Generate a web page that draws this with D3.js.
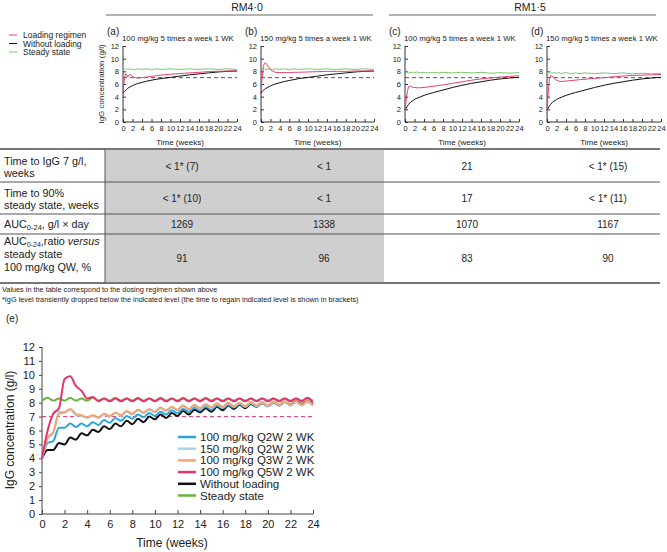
<!DOCTYPE html>
<html lang="en">
<head>
<meta charset="utf-8">
<script src="https://d3js.org/d3.v7.min.js"></script>
<style>
  body { margin: 0; background: #fff; }
  text { font-family: "Liberation Sans", Arial, sans-serif; fill: #222; }
</style>
</head>
<body>
<script>
var width = 667;
var height = 552;

// ---------- top panels data (a)-(d) ----------
var weeksTop = [0, 0.25, 0.5, 0.75, 1, 1.25, 1.5, 2, 2.5, 3, 4, 5, 6, 7, 8, 10, 12, 14, 16, 18, 20, 22, 24];

var redA   = [4.6, 6.5, 7.6, 7.5, 7.1, 7.4, 7.5, 7.2, 7.0, 6.95, 7.0, 7.1, 7.2, 7.3, 7.4, 7.55, 7.65, 7.75, 7.85, 7.95, 8.0, 8.05, 8.1];
var blackA = [4.5, 4.8, 5.0, 5.15, 5.3, 5.45, 5.55, 5.75, 5.9, 6.05, 6.25, 6.45, 6.6, 6.75, 6.85, 7.05, 7.25, 7.45, 7.6, 7.75, 7.9, 8.0, 8.05];
var greenA = [8.25, 8.4, 8.3, 8.4, 8.25, 8.4, 8.3, 8.35, 8.25, 8.4, 8.3, 8.4, 8.25, 8.4, 8.3, 8.4, 8.3, 8.4, 8.3, 8.4, 8.3, 8.4, 8.3];

var redB   = [4.6, 7.0, 8.8, 9.3, 9.3, 9.1, 8.8, 8.3, 8.0, 7.85, 7.8, 7.8, 7.8, 7.85, 7.85, 7.9, 7.95, 8.0, 8.0, 8.0, 8.05, 8.05, 8.1];
var blackB = [4.5, 4.8, 5.0, 5.15, 5.3, 5.4, 5.5, 5.7, 5.85, 6.0, 6.2, 6.4, 6.55, 6.7, 6.85, 7.05, 7.25, 7.45, 7.6, 7.75, 7.9, 8.0, 8.05];
var greenB = [8.25, 8.4, 8.3, 8.4, 8.25, 8.4, 8.3, 8.35, 8.25, 8.4, 8.3, 8.4, 8.25, 8.4, 8.3, 8.4, 8.3, 8.4, 8.3, 8.4, 8.3, 8.4, 8.3];

var redC   = [1.9, 3.5, 4.8, 5.6, 5.7, 5.6, 5.5, 5.45, 5.4, 5.4, 5.45, 5.55, 5.65, 5.75, 5.85, 6.1, 6.35, 6.6, 6.8, 6.95, 7.1, 7.2, 7.3];
var blackC = [1.9, 2.2, 2.5, 2.8, 3.0, 3.2, 3.3, 3.55, 3.75, 3.9, 4.2, 4.45, 4.65, 4.85, 5.05, 5.45, 5.8, 6.1, 6.35, 6.6, 6.8, 6.95, 7.05];
var greenC = [7.95, 7.8, 7.9, 7.75, 7.9, 7.75, 7.9, 7.8, 7.9, 7.75, 7.85, 7.75, 7.85, 7.75, 7.85, 7.75, 7.85, 7.75, 7.85, 7.7, 7.8, 7.7, 7.8];

var redD   = [1.9, 4.5, 6.8, 7.3, 7.3, 7.1, 6.9, 6.6, 6.45, 6.4, 6.45, 6.55, 6.6, 6.7, 6.75, 6.9, 7.0, 7.15, 7.25, 7.35, 7.4, 7.45, 7.5];
var blackD = [1.9, 2.2, 2.5, 2.8, 3.0, 3.2, 3.3, 3.55, 3.75, 3.9, 4.2, 4.45, 4.65, 4.85, 5.05, 5.45, 5.8, 6.1, 6.35, 6.6, 6.8, 6.95, 7.05];
var greenD = [7.9, 7.75, 7.85, 7.7, 7.85, 7.7, 7.8, 7.7, 7.8, 7.65, 7.8, 7.65, 7.75, 7.65, 7.75, 7.65, 7.75, 7.65, 7.75, 7.6, 7.7, 7.6, 7.7];

var panelLetters = ["(a)", "(b)", "(c)", "(d)"];
var panelTitles = ["100 mg/kg 5 times a week 1 WK", "150 mg/kg 5 times a week 1 WK",
                   "100 mg/kg 5 times a week 1 WK", "150 mg/kg 5 times a week 1 WK"];
var topTargetLevel = 7;

// ---------- table data ----------
var rowTime7  = ["< 1* (7)", "< 1", "21", "< 1* (15)"];
var rowTime90 = ["< 1* (10)", "< 1", "17", "< 1* (11)"];
var rowAuc    = ["1269", "1338", "1070", "1167"];
var rowRatio  = ["91", "96", "83", "90"];

// ---------- panel (e) data ----------
var weeksE = [0, 0.5, 1, 1.5, 2, 2.5, 3, 3.5, 4, 4.5, 5, 5.5, 6, 6.5, 7, 7.5, 8, 8.5, 9, 9.5, 10, 10.5, 11, 11.5, 12,
              12.5, 13, 13.5, 14, 14.5, 15, 15.5, 16, 16.5, 17, 17.5, 18, 18.5, 19, 19.5, 20, 20.5, 21, 21.5, 22, 22.5, 23, 23.5, 24];

var eNoLoad = [4.0, 4.6, 4.6, 5.1, 5.0, 5.5, 5.35, 5.8, 5.65, 6.05, 5.9, 6.3, 6.1, 6.5, 6.3, 6.7, 6.45, 6.85, 6.6, 7.0, 6.8, 7.15, 6.9, 7.25, 7.05,
               7.4, 7.15, 7.5, 7.3, 7.6, 7.35, 7.7, 7.45, 7.8, 7.55, 7.85, 7.6, 7.9, 7.7, 7.95, 7.75, 8.0, 7.8, 8.05, 7.85, 8.1, 7.9, 8.1, 7.9];
var eQ2W100 = [4.0, 5.1, 5.25, 6.2, 6.2, 6.5, 6.25, 6.5, 6.3, 6.6, 6.4, 6.75, 6.55, 6.9, 6.7, 7.05, 6.85, 7.15, 6.95, 7.25, 7.05, 7.35, 7.15, 7.45, 7.25,
               7.55, 7.35, 7.65, 7.45, 7.7, 7.5, 7.8, 7.6, 7.85, 7.65, 7.9, 7.7, 7.95, 7.75, 8.0, 7.75, 8.0, 7.8, 8.05, 7.8, 8.05, 7.85, 8.05, 7.8];
var eQ2W150 = [4.0, 5.4, 5.8, 7.35, 7.3, 7.5, 7.1, 7.05, 6.9, 7.05, 6.9, 7.15, 7.0, 7.25, 7.05, 7.35, 7.15, 7.45, 7.25, 7.5, 7.3, 7.6, 7.4, 7.65, 7.45,
               7.75, 7.5, 7.8, 7.55, 7.85, 7.6, 7.9, 7.65, 7.95, 7.7, 7.95, 7.7, 8.0, 7.75, 8.0, 7.75, 8.05, 7.8, 8.05, 7.8, 8.05, 7.8, 8.05, 7.8];
var eQ3W100 = [4.0, 5.5, 5.9, 7.2, 7.3, 7.55, 7.2, 7.1, 6.95, 7.1, 6.95, 7.2, 7.05, 7.3, 7.1, 7.4, 7.2, 7.5, 7.3, 7.55, 7.35, 7.65, 7.45, 7.7, 7.5,
               7.8, 7.55, 7.85, 7.6, 7.9, 7.65, 7.95, 7.7, 8.0, 7.75, 8.0, 7.75, 8.05, 7.8, 8.05, 7.8, 8.1, 7.85, 8.1, 7.85, 8.1, 7.85, 8.1, 7.85];
var eQ5W100 = [4.0, 6.0, 7.2, 7.6, 9.7, 9.9, 9.2, 8.85, 8.3, 8.4, 8.1, 8.3, 8.1, 8.3, 8.1, 8.3, 8.1, 8.3, 8.1, 8.3, 8.1, 8.3, 8.1, 8.3, 8.1,
               8.3, 8.1, 8.3, 8.1, 8.3, 8.1, 8.3, 8.1, 8.3, 8.1, 8.3, 8.1, 8.3, 8.1, 8.3, 8.1, 8.3, 8.1, 8.3, 8.1, 8.3, 8.1, 8.35, 8.0];
var eSteady = [8.15, 8.35, 8.15, 8.3, 8.15, 8.35, 8.15, 8.3, 8.15, 8.35, 8.15, 8.3, 8.15, 8.35, 8.15, 8.3, 8.15, 8.35, 8.15, 8.3, 8.15, 8.35, 8.15, 8.3, 8.15,
               8.35, 8.15, 8.3, 8.15, 8.35, 8.15, 8.3, 8.15, 8.3, 8.15, 8.3, 8.15, 8.3, 8.15, 8.3, 8.15, 8.3, 8.15, 8.3, 8.15, 8.3, 8.15, 8.3, 8.15];

var eLegend = ["100 mg/kg Q2W 2 WK", "150 mg/kg Q2W 2 WK", "100 mg/kg Q3W 2 WK", "100 mg/kg Q5W 2 WK", "Without loading", "Steady state"];
var eColors = ["#2ba6dc", "#aad3ea", "#f4a270", "#e5336d", "#111111", "#6ab23e"];
var eTarget = 7;

var topRed = "#e8406f", topGreen = "#7cc96a";

var svg = d3.select("body").append("svg")
            .attr("width", width)
            .attr("height", height);

svg.append("rect").attr("width", width).attr("height", height).attr("fill", "#fff");

// ---------- group headers ----------
svg.append("text").attr("x", 247).attr("y", 11).attr("text-anchor", "middle")
   .attr("font-size", 10.5).text("RM4·0");
svg.append("line").attr("x1", 106).attr("x2", 373).attr("y1", 15).attr("y2", 15)
   .attr("stroke", "#666").attr("stroke-width", 1.2);
svg.append("text").attr("x", 530).attr("y", 11).attr("text-anchor", "middle")
   .attr("font-size", 10.5).text("RM1·5");
svg.append("line").attr("x1", 389).attr("x2", 656).attr("y1", 15).attr("y2", 15)
   .attr("stroke", "#666").attr("stroke-width", 1.2);

// ---------- top legend ----------
var topLegend = [["Loading regimen", topRed], ["Without loading", "#111"], ["Steady state", topGreen]];
topLegend.forEach(function(d, i) {
  var y = 35 + i * 8.5;
  svg.append("line").attr("x1", 9).attr("x2", 17).attr("y1", y).attr("y2", y)
     .attr("stroke", d[1]).attr("stroke-width", 1);
  svg.append("text").attr("x", 23).attr("y", y + 3).attr("font-size", 8.5).text(d[0]);
});

// ---------- top panels ----------
var panelX = [[123, 237], [261, 374], [405, 519], [547, 661]];
var topSeries = [[redA, blackA, greenA], [redB, blackB, greenB], [redC, blackC, greenC], [redD, blackD, greenD]];
var yTop = d3.scaleLinear().domain([0, 12]).range([122, 46]);

panelX.forEach(function(px, i) {
  var x = d3.scaleLinear().domain([0, 24]).range(px);
  var g = svg.append("g");

  g.append("text").attr("x", px[0] - 16).attr("y", 35).attr("font-size", 10).text(panelLetters[i]);
  g.append("text").attr("x", px[0] - 1).attr("y", 41).attr("font-size", 7.8).text(panelTitles[i]);

  var xa = g.append("g").attr("transform", "translate(0,122)")
            .call(d3.axisBottom(x).tickValues(d3.range(0, 25, 2)).tickSize(-3).tickPadding(4));
  var ya = g.append("g").attr("transform", "translate(" + px[0] + ",0)")
            .call(d3.axisLeft(yTop).tickValues(d3.range(0, 13, 2)).tickSize(-3).tickPadding(4));
  [xa, ya].forEach(function(a) {
    a.selectAll("text").attr("font-size", 7.5).attr("fill", "#222")
     .attr("font-family", "Liberation Sans, Arial, sans-serif");
    a.selectAll("path, line").attr("stroke", "#333");
  });
  xa.select(".domain").attr("d", "M" + px[0] + ",0H" + px[1]);
  ya.select(".domain").attr("d", "M0,122V46");

  g.append("text").attr("x", (px[0] + px[1]) / 2).attr("y", 145).attr("text-anchor", "middle")
   .attr("font-size", 8).text("Time (weeks)");

  g.append("line").attr("x1", x(0)).attr("x2", x(24))
   .attr("y1", yTop(topTargetLevel)).attr("y2", yTop(topTargetLevel))
   .attr("stroke", "#555").attr("stroke-width", 1).attr("stroke-dasharray", "4,3");

  var line = d3.line().x(function(d, j) { return x(weeksTop[j]); }).y(function(d) { return yTop(d); });
  var s = topSeries[i];
  g.append("path").attr("d", line(s[2])).attr("fill", "none").attr("stroke", topGreen).attr("stroke-width", 1);
  g.append("path").attr("d", line(s[1])).attr("fill", "none").attr("stroke", "#111").attr("stroke-width", 1);
  g.append("path").attr("d", line(s[0])).attr("fill", "none").attr("stroke", topRed).attr("stroke-width", 1);
});

svg.append("text").attr("transform", "translate(104,84) rotate(-90)").attr("text-anchor", "middle")
   .attr("font-size", 8).text("IgG concentration (g/l)");

// ---------- table ----------
var colX = [182, 324, 467, 608];
var rowLines = [149, 182, 214, 234, 283];
var rowMid = [166, 198, 224, 258];

svg.append("rect").attr("x", 105).attr("y", 149).attr("width", 279).attr("height", 134).attr("fill", "#cfcfcf");
rowLines.forEach(function(y, i) {
  var thick = (i == 0 || i == rowLines.length - 1);
  svg.append("line").attr("x1", 0).attr("x2", 660).attr("y1", y).attr("y2", y)
     .attr("stroke", thick ? "#777" : "#555").attr("stroke-width", thick ? 2 : 1);
});
svg.append("line").attr("x1", 105).attr("x2", 105).attr("y1", 149).attr("y2", 283)
   .attr("stroke", "#555").attr("stroke-width", 1);

function labelLine(y, txt) {
  return svg.append("text").attr("x", 4).attr("y", y).attr("font-size", 10.8).text(txt);
}
labelLine(165, "Time to IgG 7 g/l,");
labelLine(177, "weeks");
labelLine(197, "Time to 90%");
labelLine(209, "steady state, weeks");
var auc1 = svg.append("text").attr("x", 4).attr("y", 228).attr("font-size", 10.8);
auc1.append("tspan").text("AUC");
auc1.append("tspan").attr("font-size", 7.5).attr("dy", 2).text("0-24");
auc1.append("tspan").attr("dy", -2).text(", g/l × day");
var auc2 = svg.append("text").attr("x", 4).attr("y", 245).attr("font-size", 10.8);
auc2.append("tspan").text("AUC");
auc2.append("tspan").attr("font-size", 7).attr("dy", 1.5).text("0-24");
auc2.append("tspan").attr("dy", -1.5).text(",ratio ");
auc2.append("tspan").attr("font-style", "italic").text("versus");
labelLine(258, "steady state");
labelLine(271, "100 mg/kg QW, %");

[rowTime7, rowTime90, rowAuc, rowRatio].forEach(function(row, r) {
  row.forEach(function(v, c) {
    svg.append("text").attr("x", colX[c]).attr("y", rowMid[r] + 3.5).attr("text-anchor", "middle")
       .attr("font-size", 10).attr("fill", "#333").text(v);
  });
});

svg.append("text").attr("x", 2).attr("y", 292).attr("font-size", 7.3)
   .text("Values in the table correspond to the dosing regimen shown above");
svg.append("text").attr("x", 2).attr("y", 302).attr("font-size", 7.3)
   .text("*IgG level transiently dropped below the indicated level (the time to regain indicated level is shown in brackets)");

// ---------- panel (e) ----------
svg.append("text").attr("x", 6).attr("y", 322).attr("font-size", 10).text("(e)");

var xE = d3.scaleLinear().domain([0, 24]).range([42, 313]);
var yE = d3.scaleLinear().domain([0, 12]).range([514, 347]);

var xaE = svg.append("g").attr("transform", "translate(0,514)")
             .call(d3.axisBottom(xE).tickValues(d3.range(0, 25, 2)).tickSize(-4).tickPadding(6));
var yaE = svg.append("g").attr("transform", "translate(42,0)")
             .call(d3.axisLeft(yE).tickValues(d3.range(0, 13, 1)).tickSize(3).tickPadding(4));
[xaE, yaE].forEach(function(a) {
  a.selectAll("text").attr("font-size", 11).attr("fill", "#222")
   .attr("font-family", "Liberation Sans, Arial, sans-serif");
  a.selectAll("path, line").attr("stroke", "#444");
});
xaE.select(".domain").attr("d", "M42,0H313");
yaE.select(".domain").attr("d", "M0,514V347");

svg.append("text").attr("x", 172).attr("y", 547).attr("text-anchor", "middle")
   .attr("font-size", 12).text("Time (weeks)");
svg.append("text").attr("transform", "translate(14,430) rotate(-90)").attr("text-anchor", "middle")
   .attr("font-size", 12).text("IgG concentration (g/l)");

svg.append("line").attr("x1", xE(0)).attr("x2", xE(24)).attr("y1", yE(eTarget)).attr("y2", yE(eTarget))
   .attr("stroke", "#e5336d").attr("stroke-width", 1).attr("stroke-dasharray", "4,3");

var lineE = d3.line().x(function(d, j) { return xE(weeksE[j]); }).y(function(d) { return yE(d); })
              .curve(d3.curveMonotoneX);
var eSeries = [eQ2W100, eQ2W150, eQ3W100, eQ5W100, eNoLoad, eSteady];
var drawOrder = [4, 0, 1, 2, 5, 3];
drawOrder.forEach(function(k) {
  svg.append("path").attr("d", lineE(eSeries[k])).attr("fill", "none")
     .attr("stroke", eColors[k]).attr("stroke-width", 2);
});

eLegend.forEach(function(name, i) {
  var y = 437 + i * 11.7;
  svg.append("line").attr("x1", 178).attr("x2", 196).attr("y1", y).attr("y2", y)
     .attr("stroke", eColors[i]).attr("stroke-width", 2.5);
  svg.append("text").attr("x", 200).attr("y", y + 4).attr("font-size", 11.5).text(name);
});
</script>
</body>
</html>
